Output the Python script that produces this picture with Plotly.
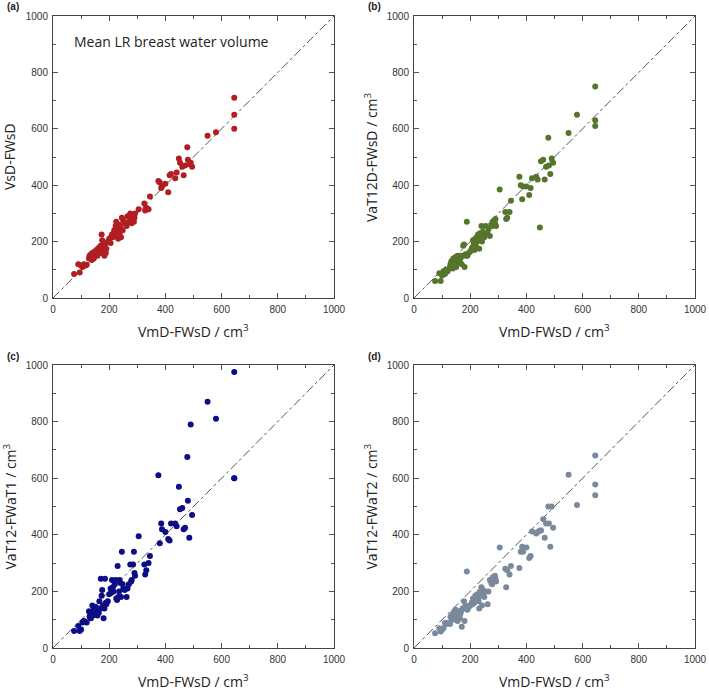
import plotly.graph_objects as go

# shared x: VmD-FWsD / cm3
vmd = [75, 90, 95, 100, 105, 110, 115, 120, 128, 130, 133, 135, 138, 140, 142, 145, 148, 150, 152, 155,
       158, 160, 163, 165, 168, 170, 173, 175, 178, 180, 183, 185, 188, 190, 195, 200, 205, 208, 210, 213,
       215, 218, 220, 223, 225, 228, 230, 232, 235, 237, 240, 242, 245, 248, 250, 255, 262, 265, 270, 275,
       278, 280, 285, 288, 290, 292, 305, 325, 328, 332, 340, 345, 375, 380, 385, 388, 400, 410, 415, 420,
       435, 440, 448, 452, 460, 465, 470, 478, 480, 485, 490, 495, 550, 580, 645, 645, 645]

vsd_fwsd = [85, 120, 90, 115, 110, 120, 115, 118, 140, 150, 145, 155, 135, 160, 150, 140, 165, 155, 160, 170,
            150, 175, 165, 180, 160, 185, 225, 205, 165, 180, 150, 190, 160, 175, 200, 210, 195, 220, 225, 215,
            230, 240, 220, 255, 270, 235, 245, 210, 260, 225, 250, 215, 285, 240, 275, 265, 255, 290, 270, 300,
            280, 265, 295, 270, 285, 300, 315, 335, 310, 320, 315, 360, 415, 410, 390, 395, 405, 375, 435, 440,
            425, 445, 495, 480, 465, 435, 470, 535, 490, 475, 480, 465, 575, 588, 710, 650, 600]

vat12d_fwsd = [60, 88, 60, 80, 95, 85, 100, 95, 110, 120, 130, 115, 105, 140, 125, 135, 145, 110, 120, 150,
               140, 130, 135, 150, 145, 120, 150, 185, 190, 110, 155, 150, 270, 150, 160, 165, 175, 180, 205, 195,
               170, 210, 185, 215, 200, 225, 210, 175, 230, 220, 255, 200, 235, 225, 215, 255, 230, 245, 220, 260,
               255, 270, 275, 265, 280, 255, 385, 305, 280, 285, 305, 345, 430, 400, 350, 395, 395, 365, 390, 425,
               430, 420, 250, 485, 490, 420, 465, 568, 470, 440, 495, 480, 585, 650, 750, 630, 610]

vat12_fwat1 = [60, 78, 60, 65, 90, 95, 92, 90, 130, 110, 120, 105, 125, 150, 115, 135, 140, 120, 145, 130,
               115, 140, 125, 165, 140, 245, 185, 205, 150, 105, 140, 245, 160, 155, 165, 190, 210, 195, 240, 215,
               200, 235, 225, 240, 175, 170, 290, 180, 200, 240, 230, 180, 340, 225, 210, 205, 180, 210, 225, 295,
               235, 240, 295, 340, 265, 255, 395, 295, 260, 275, 300, 325, 610, 370, 440, 420, 410, 385, 380, 440,
               440, 430, 570, 490, 495, 420, 425, 675, 520, 390, 790, 470, 870, 810, 975, 600, 600]

vat12_fwat2 = [52, 70, 58, 65, 70, 88, 85, 88, 85, 110, 105, 115, 100, 125, 120, 110, 135, 125, 110, 95,
               115, 130, 105, 120, 130, 75, 140, 140, 165, 95, 150, 140, 270, 135, 145, 150, 160, 155, 175, 165,
               160, 185, 170, 180, 190, 175, 165, 140, 200, 185, 215, 150, 205, 195, 180, 200, 155, 200, 240, 230,
               225, 250, 240, 255, 245, 235, 355, 280, 215, 275, 260, 290, 283, 340, 358, 340, 355, 318, 325, 412,
               405, 410, 415, 415, 455, 390, 440, 500, 440, 358, 500, 425, 612, 505, 680, 578, 540]

y_titles = ["VsD-FWsD", "VaT12D-FWsD / cm<sup>3</sup>", "VaT12-FWaT1 / cm<sup>3</sup>", "VaT12-FWaT2 / cm<sup>3</sup>"]
x_title = "VmD-FWsD / cm<sup>3</sup>"
panel_tags = ["(a)", "(b)", "(c)", "(d)"]
series = [vsd_fwsd, vat12d_fwsd, vat12_fwat1, vat12_fwat2]
colors = ["#b01e24", "#55752c", "#0d0d85", "#7a8a9c"]
tick_vals = [0, 200, 400, 600, 800, 1000]

W, H = 709, 691
# pixel boxes of plot areas: (left, right, top, bottom)
boxes = [(53, 334, 16, 298), (414, 695, 16, 298), (53, 334, 365, 648), (414, 695, 365, 648)]

fig = go.Figure()
for i, (ys, col) in enumerate(zip(series, colors)):
    n = "" if i == 0 else str(i + 1)
    fig.add_trace(go.Scatter(x=[0, 1000], y=[0, 1000], mode="lines",
                             line=dict(color="#555555", width=1, dash="dashdot"),
                             xaxis="x" + n, yaxis="y" + n, showlegend=False, hoverinfo="skip"))
    fig.add_trace(go.Scatter(x=vmd, y=ys, mode="markers",
                             marker=dict(color=col, size=6, line=dict(width=0)),
                             xaxis="x" + n, yaxis="y" + n, showlegend=False))

axis_common = dict(range=[0, 1000], tickvals=tick_vals, ticks="inside", ticklen=5, tickwidth=1,
                   tickcolor="#555555", showline=True, linecolor="#444444", linewidth=1, mirror="ticks",
                   showgrid=False, zeroline=False, automargin=False,
                   tickfont=dict(family="Liberation Sans, Arial", size=10, color="#333333"),
                   minor=dict(ticks="inside", ticklen=3, dtick=100, tickcolor="#555555", showgrid=False))

layout = dict(width=W, height=H, margin=dict(l=0, r=0, t=0, b=0),
              paper_bgcolor="white", plot_bgcolor="white", showlegend=False)
annotations = []
for i, (l, r, t, b) in enumerate(boxes):
    n = "" if i == 0 else str(i + 1)
    xd = [l / W, r / W]
    yd = [1 - b / H, 1 - t / H]
    layout["xaxis" + n] = dict(axis_common, domain=xd, anchor="y" + n, ticklabelstandoff=2)
    layout["yaxis" + n] = dict(axis_common, domain=yd, anchor="x" + n, ticklabelstandoff=2)
    cx = (l + r) / 2 / W
    cy = 1 - (t + b) / 2 / H
    annotations.append(dict(text=x_title, x=cx, y=1 - (b + 33) / H, xref="paper", yref="paper",
                            showarrow=False, xanchor="center", yanchor="middle",
                            font=dict(family="Open Sans", size=14, color="#222222")))
    annotations.append(dict(text=y_titles[i], x=(l - 43) / W, y=cy, xref="paper", yref="paper",
                            showarrow=False, xanchor="center", yanchor="middle", textangle=-90,
                            font=dict(family="Open Sans", size=14, color="#222222")))
    annotations.append(dict(text="<b>" + panel_tags[i] + "</b>", x=(l - 48) / W, y=1 - (t - 9) / H,
                            xref="paper", yref="paper", showarrow=False, xanchor="left", yanchor="middle",
                            font=dict(family="Liberation Sans, Arial", size=10, color="#222222")))

annotations.append(dict(text="Mean LR breast water volume", x=72 / W, y=1 - 42 / H, xref="paper", yref="paper",
                        showarrow=False, xanchor="left", yanchor="middle",
                        font=dict(family="Open Sans", size=14, color="#222222")))
layout["annotations"] = annotations
fig.update_layout(**layout)
fig.write_html("out.html", config={"displayModeBar": False},
               post_script="document.body.style.margin='0';document.body.style.overflow='hidden';")
